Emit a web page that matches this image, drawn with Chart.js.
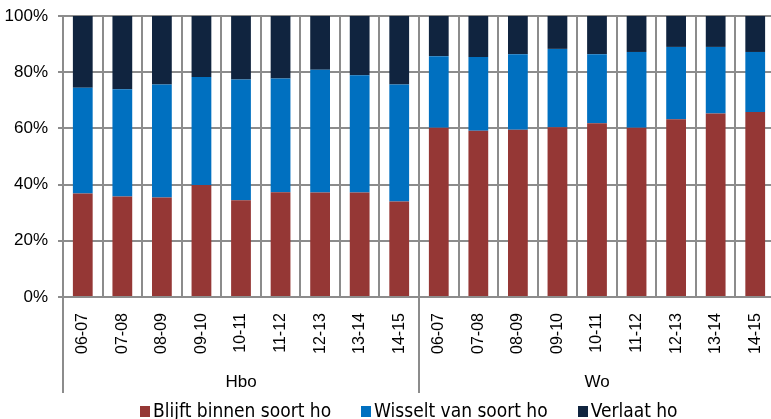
<!DOCTYPE html>
<html>
<head>
<meta charset="utf-8">
<script src="https://cdn.jsdelivr.net/npm/chart.js@4/dist/chart.umd.min.js"></script>
<style>
  html, body { margin: 0; padding: 0; background: #fff; overflow: hidden; }
  #wrap { position: relative; width: 776px; height: 419px; }
  #legend {
    position: absolute; left: 140px; top: 399px;
    display: flex; gap: 30px;
    font: 19px "DejaVu Sans Condensed", sans-serif; line-height: 22px; color: #000;
    white-space: nowrap;
  }
  #legend span.sw { display: inline-block; width: 10px; height: 11px; margin-right: 3px; }
</style>
</head>
<body>
<div id="wrap">
  <canvas id="chart"></canvas>
  <div id="legend"></div>
</div>
<script>
// Academic years, repeated for each education type
const years = ["06-07", "07-08", "08-09", "09-10", "10-11", "11-12", "12-13", "13-14", "14-15"];
const groups = ["Hbo", "Wo"];
const yTicks = [0, 20, 40, 60, 80, 100];

// Shares in percent, Hbo years first, then Wo years
const blijft = [36.8, 35.8, 35.4, 39.9, 34.4, 37.3, 37.2, 37.2, 34.0,
                60.2, 59.2, 59.5, 60.4, 61.8, 60.2, 63.3, 65.3, 65.8];
const wisselt = [37.7, 38.1, 40.2, 38.4, 43.0, 40.5, 43.7, 41.7, 41.6,
                 25.5, 26.2, 26.9, 27.9, 24.6, 27.0, 25.7, 23.7, 21.4];
const verlaat = [25.5, 26.1, 24.4, 21.7, 22.6, 22.2, 19.1, 21.1, 24.4,
                 14.3, 14.6, 13.6, 11.7, 13.6, 12.8, 11.0, 11.0, 12.8];

const labels = groups.flatMap(() => years);
const GRID = "#8c8c8c";

// vertical separators between the Hbo and Wo groups, below the plot
const groupLines = {
  id: "groupLines",
  afterDraw(chart) {
    const { ctx, chartArea, scales } = chart;
    const x = scales.x;
    const bottom = scales.x2.bottom;
    const half = (x.getPixelForValue(1) - x.getPixelForValue(0)) / 2;
    const edges = [x.getPixelForValue(0) - half];
    let i = 0;
    groups.forEach(() => {
      i += years.length;
      edges.push(x.getPixelForValue(i - 1) + half);
    });
    ctx.save();
    ctx.strokeStyle = GRID;
    ctx.lineWidth = 2;
    edges.forEach(px => {
      ctx.beginPath();
      ctx.moveTo(px, chartArea.bottom);
      ctx.lineTo(px, bottom);
      ctx.stroke();
    });
    ctx.restore();
  }
};

const chart = new Chart(document.getElementById("chart"), {
  type: "bar",
  data: {
    labels: labels,
    datasets: [
      { label: "Blijft binnen soort ho", data: blijft, backgroundColor: "#953735" },
      { label: "Wisselt van soort ho", data: wisselt, backgroundColor: "#0070c0" },
      { label: "Verlaat ho", data: verlaat, backgroundColor: "#10243f" }
    ]
  },
  options: {
    responsive: true,
    maintainAspectRatio: false,
    animation: false,
    categoryPercentage: 1,
    barPercentage: 0.5,
    layout: { padding: { left: 0, right: 1, top: 16, bottom: 26 } },
    plugins: {
      tooltip: { enabled: false },
      legend: { display: false }
    },
    scales: {
      x: {
        stacked: true,
        afterFit(scale) {
          scale.height = 62;
          scale.paddingLeft = 0;
          scale.paddingRight = 0;
        },
        grid: { color: GRID, lineWidth: 2, offset: true, tickLength: 0 },
        border: { color: GRID, width: 2 },
        ticks: {
          color: "#000",
          maxRotation: 90,
          minRotation: 90,
          padding: 16,
          font: { family: "Liberation Sans", size: 16 }
        }
      },
      x2: {
        type: "category",
        labels: groups,
        offset: true,
        afterFit(scale) { scale.height = 34; },
        grid: { display: false },
        border: { display: false },
        ticks: {
          color: "#000",
          padding: 5,
          font: { family: "Liberation Sans", size: 17 }
        }
      },
      y: {
        stacked: true,
        min: 0,
        max: 100,
        afterFit(scale) {
          scale.width = 63;
          scale.paddingTop = 0;
          scale.paddingBottom = 0;
        },
        afterBuildTicks(scale) { scale.ticks = yTicks.map(v => ({ value: v })); },
        grid: { color: GRID, lineWidth: 2, tickLength: 5 },
        border: { color: GRID, width: 2 },
        ticks: {
          color: "#000",
          padding: 10,
          font: { family: "Liberation Sans", size: 17 },
          callback: v => v + "%"
        }
      }
    }
  },
  plugins: [groupLines]
});

// legend row under the chart, built from the dataset labels and colours
const legend = document.getElementById("legend");
chart.data.datasets.forEach(ds => {
  const item = document.createElement("div");
  const sw = document.createElement("span");
  sw.className = "sw";
  sw.style.background = ds.backgroundColor;
  item.appendChild(sw);
  item.appendChild(document.createTextNode(ds.label));
  legend.appendChild(item);
});
</script>
</body>
</html>
